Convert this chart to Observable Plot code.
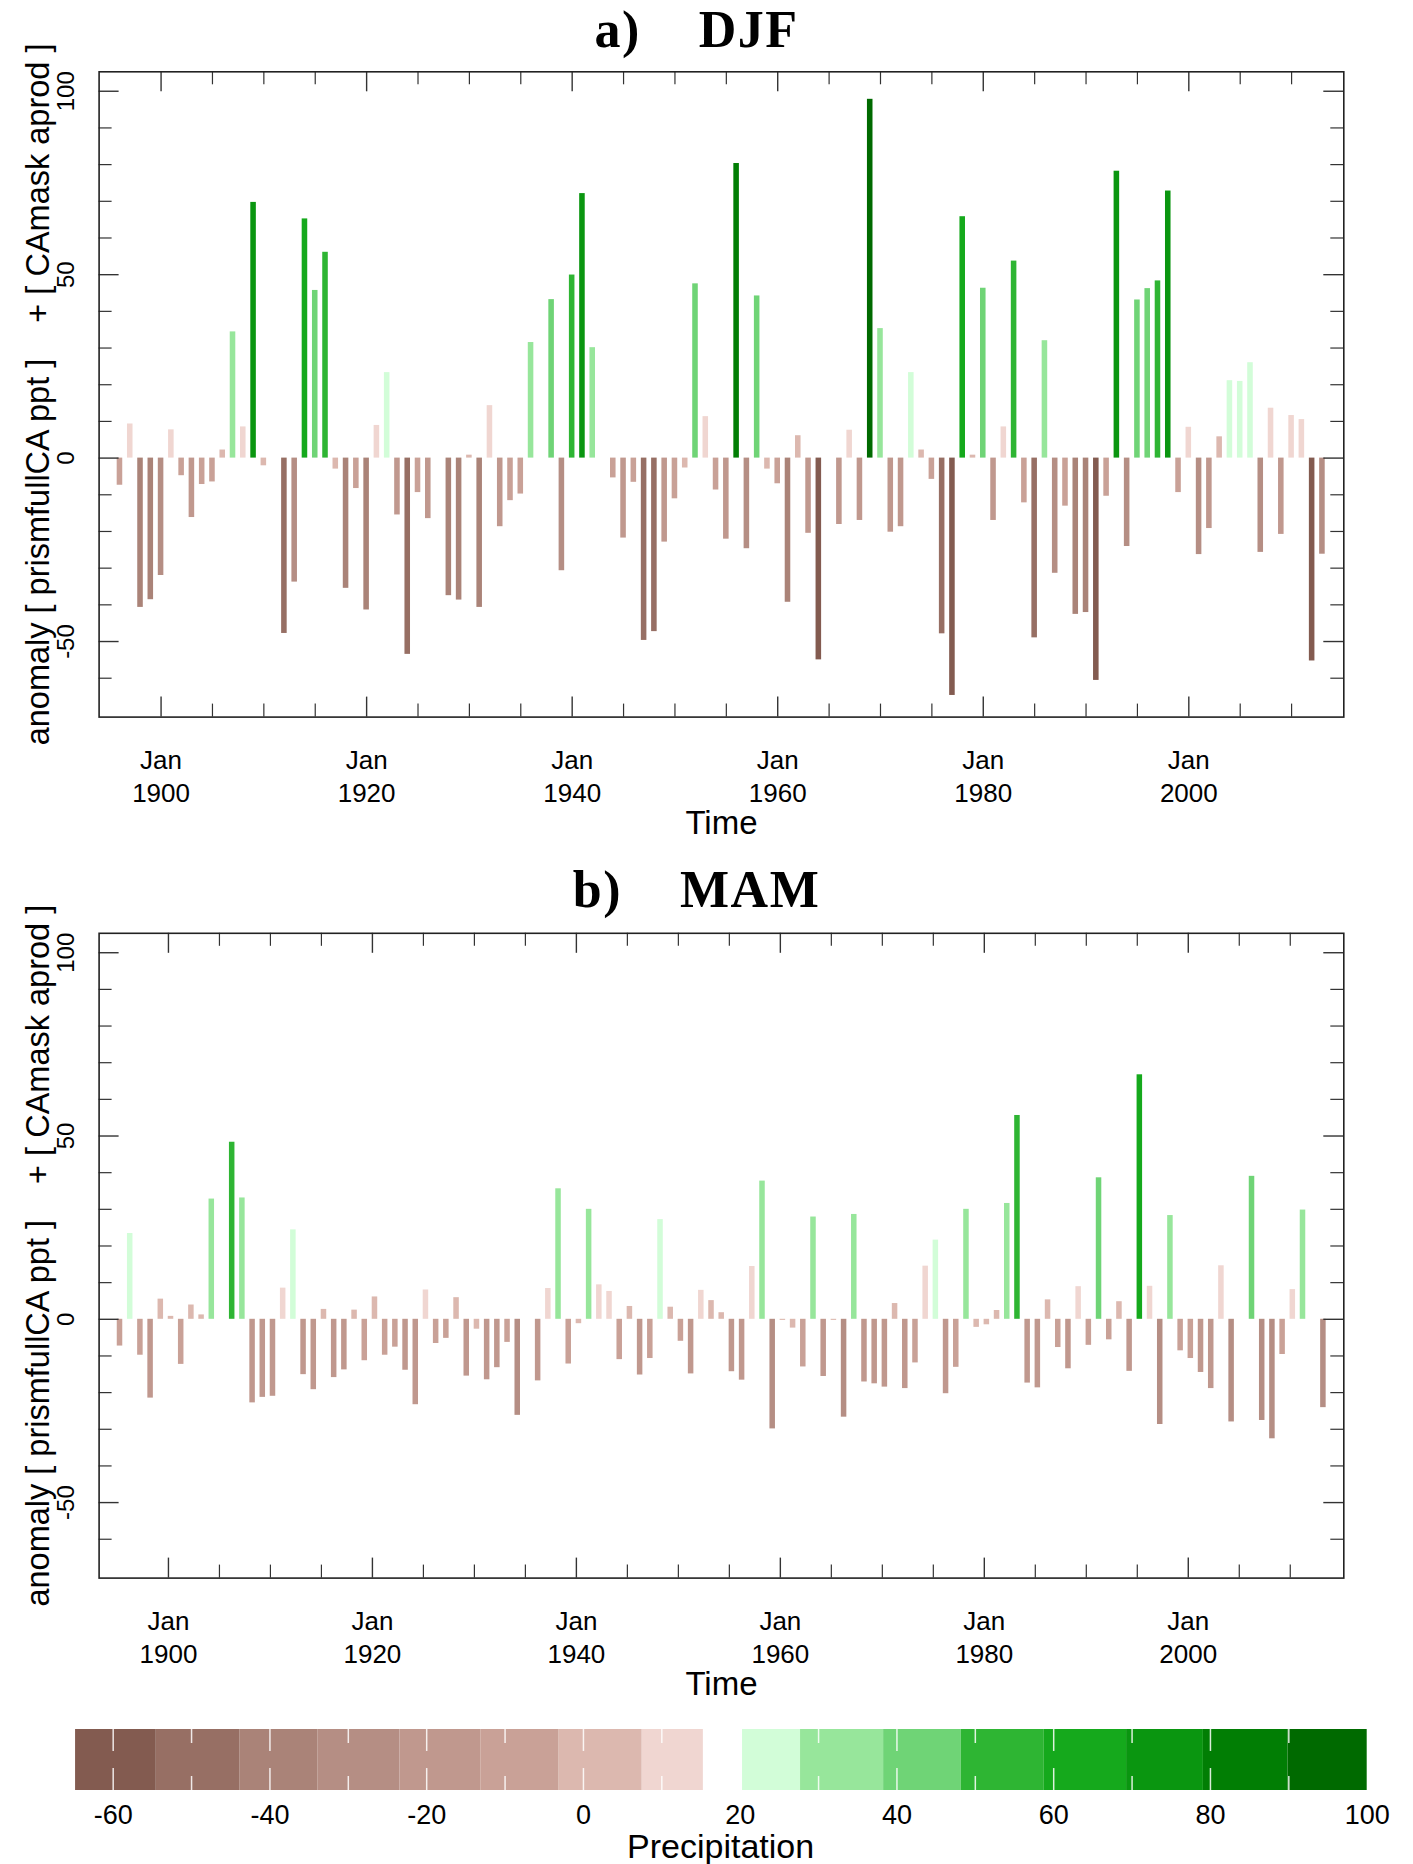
<!DOCTYPE html>
<html>
<head>
<meta charset="utf-8">
<script src="https://cdn.jsdelivr.net/npm/d3@7"></script>
<script src="https://cdn.jsdelivr.net/npm/@observablehq/plot@0.6"></script>
<style>
  body { margin: 0; background: #ffffff; }
  #page { position: relative; width: 1413px; height: 1864px; overflow: hidden; font-family: "Liberation Sans", Arial, sans-serif; }
  .title { position: absolute; left: -10px; width: 1413px; text-align: center; font-family: "Liberation Serif", "Times New Roman", serif; font-weight: bold; font-size: 52px; letter-spacing: 1.5px; line-height: 1.1; white-space: pre; color: #000; z-index: 2; }
  .panel { position: absolute; left: 0; }
  .panel svg { display: block; }
</style>
</head>
<body>
<div id="page">
  <div class="title" id="titleA" style="top:1px">a)    DJF</div>
  <div class="title" id="titleB" style="top:861px">b)    MAM</div>
  <div class="panel" id="panelA" style="top:0px"></div>
  <div class="panel" id="panelB" style="top:860px"></div>
  <div class="panel" id="legend" style="top:1720px"></div>
</div>
<script>
// ---------------- data ----------------
const djfFirstYear = 1896;   // DJF seasons, plotted at Jan of each year
const djfValues = [
  -7.4, 9.3, -40.7, -38.6, -32.0, 7.7, -4.8, -16.2, -7.2, -6.5,
  2.2, 34.4, 8.5, 69.7, -2.1, 0, -47.8, -33.8, 65.2, 45.7,
  56.1, -3.0, -35.5, -8.3, -41.4, 8.9, 23.3, -15.5, -53.5, -9.4,
  -16.5, 0, -37.5, -38.7, 0.8, -40.7, 14.3, -18.7, -11.6, -9.8,
  31.5, 0, 43.2, -30.7, 49.9, 72.1, 30.1, 0, -5.4, -21.8,
  -6.6, -49.7, -47.3, -22.9, -11.1, -2.7, 47.5, 11.3, -8.7, -22.1,
  80.3, -24.7, 44.2, -3.0, -7.0, -39.3, 6.1, -20.5, -55.0, 0,
  -18.1, 7.6, -17.0, 97.8, 35.3, -20.2, -18.7, 23.3, 2.2, -5.8,
  -47.9, -64.7, 65.8, 0.8, 46.3, -17.0, 8.5, 53.7, -12.2, -49.0,
  32.0, -31.4, -13.1, -42.6, -42.1, -60.6, -10.4, 78.2, -24.1, 43.1,
  46.2, 48.3, 72.8, -9.4, 8.4, -26.3, -19.2, 5.8, 21.1, 20.9,
  26.0, -25.7, 13.6, -20.8, 11.6, 10.5, -55.3, -26.2
];
const mamFirstYear = 1895;   // MAM seasons, plotted at early April of each year
const mamValues = [
  -7.3, 23.4, -9.8, -21.5, 5.5, 0.8, -12.3, 3.9, 1.2, 32.8,
  0, 48.3, 33.1, -22.8, -21.3, -21.0, 8.5, 24.4, -15.1, -19.2,
  2.7, -15.9, -13.8, 2.5, -11.3, 6.1, -9.8, -7.6, -13.9, -23.3,
  8.0, -6.6, -5.2, 5.9, -15.5, -2.7, -16.5, -13.2, -6.3, -26.2,
  0, -16.8, 8.4, 35.6, -12.2, -1.2, 30.0, 9.4, 7.6, -11.0,
  3.5, -15.2, -10.7, 27.2, 3.3, -6.0, -14.9, 7.9, 5.1, 1.8,
  -14.3, -16.6, 14.4, 37.7, -29.9, -0.3, -2.4, -13.0, 27.9, -15.6,
  -0.3, -26.7, 28.6, -17.1, -17.6, -18.5, 4.3, -18.9, -11.9, 14.5,
  21.6, -20.3, -13.1, 30.0, -2.2, -1.5, 2.4, 31.6, 55.6, -17.4,
  -18.7, 5.3, -7.7, -13.5, 8.9, -7.1, 38.6, -5.6, 4.8, -14.2,
  66.7, 9.0, -28.7, 28.3, -8.6, -10.7, -14.5, -18.9, 14.6, -28.0,
  0, 39.0, -27.6, -32.6, -9.6, 8.1, 29.8, 0, -24.1
];

const xMajorTicks = [1900, 1920, 1940, 1960, 1980, 2000];
const xMinorTicks = [1905, 1910, 1915, 1925, 1930, 1935, 1945, 1950, 1955, 1965, 1970, 1975, 1985, 1990, 1995, 2005, 2010];
const yMajorTicks = [-50, 0, 50, 100];
const yMinorTicks = [-60, -40, -30, -20, -10, 10, 20, 30, 40, 60, 70, 80, 90];

// colour classes (upper bounds between classes) and their colours
const colorBreaks = [-54.5, -43.8, -33.9, -23.4, -13.1, -3.1, 7.5, 17.8, 27.7, 38.3, 48.2, 58.8, 69.3, 79.1, 89.9];
const colorPalette = [
  "#835b50", "#976f64", "#aa8378", "#b58e84", "#c0988e", "#c9a197", "#dcb8af", "#f0d6d1",
  "#d2fdd8", "#97e69b", "#6fd476", "#2eb533", "#15a91c", "#0a9610", "#017e04", "#006a00"
];
// colour-bar segment edges (brown part, then green part)
const brownEdges = [-64.8, -54.5, -43.8, -33.9, -23.4, -13.1, -3.1, 7.5, 15.3];
const greenEdges = [20.3, 27.7, 38.3, 48.2, 58.8, 69.3, 79.1, 89.9, 100];
const legendLabels = [-60, -40, -20, 0, 20, 40, 60, 80, 100];
const legendTicksLong = [-60, -40, -20, 0, 40, 60, 80];
const legendTicksShort = [-50, -30, -10, 10, 30, 50, 70, 90];

const yLabel = "anomaly [ prismfullCA ppt ]\u00a0\u00a0\u00a0\u00a0+ [ CAmask aprod ]";

// ---------------- drawing ----------------
const W = 1413;
const tickColor = "#333";

function panel({firstYear, values, offset, xDomain, mT, mB, H}) {
  const mL = 98.6, mR = 69.7;
  const innerW = W - mL - mR;
  const innerH = H - mT - mB;
  const data = values.map((v, i) => ({t: firstYear + i + offset, v}));
  const half = 0.27;
  return Plot.plot({
    width: W, height: H,
    marginTop: mT, marginBottom: mB, marginLeft: mL, marginRight: mR,
    style: {fontFamily: "'Liberation Sans', Arial, sans-serif", background: "transparent", color: "#000", overflow: "visible"},
    x: {domain: xDomain, axis: null},
    y: {domain: [-70.6, 105.3], axis: null},
    color: {type: "threshold", domain: colorBreaks, range: colorPalette},
    marks: [
      Plot.rect(data, {x1: d => d.t - half, x2: d => d.t + half, y1: d => 0, y2: d => d.v, fill: d => d.v}),
      // inward ticks on all four sides
      Plot.tickY(yMajorTicks, {y: d => d, insetRight: innerW - 20, stroke: tickColor, strokeWidth: 1.4}),
      Plot.tickY(yMajorTicks, {y: d => d, insetLeft: innerW - 20, stroke: tickColor, strokeWidth: 1.4}),
      Plot.tickY(yMinorTicks, {y: d => d, insetRight: innerW - 13, stroke: tickColor, strokeWidth: 1.2}),
      Plot.tickY(yMinorTicks, {y: d => d, insetLeft: innerW - 13, stroke: tickColor, strokeWidth: 1.2}),
      Plot.tickX(xMajorTicks, {x: d => d, insetBottom: innerH - 20, stroke: tickColor, strokeWidth: 1.4}),
      Plot.tickX(xMajorTicks, {x: d => d, insetTop: innerH - 20, stroke: tickColor, strokeWidth: 1.4}),
      Plot.tickX(xMinorTicks, {x: d => d, insetBottom: innerH - 13, stroke: tickColor, strokeWidth: 1.2}),
      Plot.tickX(xMinorTicks, {x: d => d, insetTop: innerH - 13, stroke: tickColor, strokeWidth: 1.2}),
      Plot.frame({stroke: "#222", strokeWidth: 1.6}),
      // y tick labels (rotated, R style)
      Plot.text(yMajorTicks, {y: d => d, text: d => String(d), frameAnchor: "left", textAnchor: "middle", dx: -33, rotate: -90, fontSize: 24}),
      // x tick labels "Jan" / year
      Plot.text(xMajorTicks, {x: d => d, text: d => `Jan\n${d}`, frameAnchor: "bottom", lineAnchor: "top", dy: 28, fontSize: 26, lineHeight: 1.28}),
      // axis titles
      Plot.text(["Time"], {text: d => d, frameAnchor: "bottom", textAnchor: "middle", dy: 117, fontSize: 33}),
      Plot.text([yLabel], {text: d => d, frameAnchor: "left", textAnchor: "middle", dx: -60.6, rotate: -90, fontSize: 32.5})
    ]
  });
}

document.getElementById("panelA").append(panel({
  firstYear: djfFirstYear, values: djfValues, offset: 0,
  xDomain: [1893.97, 2015.08], mT: 71.3, mB: 860 - 716.6, H: 860
}));
document.getElementById("panelB").append(panel({
  firstYear: mamFirstYear, values: mamValues, offset: 0.25,
  xDomain: [1893.2, 2015.25], mT: 72.8, mB: 860 - 717.6, H: 860
}));

// ---------------- colour bar ----------------
const legendBins = [];
for (let i = 0; i < brownEdges.length - 1; i++) legendBins.push({lo: brownEdges[i], hi: brownEdges[i + 1], c: colorPalette[i]});
for (let i = 0; i < greenEdges.length - 1; i++) legendBins.push({lo: greenEdges[i], hi: greenEdges[i + 1], c: colorPalette[8 + i]});

document.getElementById("legend").append(Plot.plot({
  width: W, height: 144,
  marginTop: 9, marginBottom: 74, marginLeft: 73.5, marginRight: 46.3,
  style: {fontFamily: "'Liberation Sans', Arial, sans-serif", background: "transparent", color: "#000", overflow: "visible"},
  x: {domain: [-65, 100], axis: null},
  y: {domain: [0, 1], axis: null},
  color: {type: "identity"},
  marks: [
    Plot.rect(legendBins, {x1: "lo", x2: "hi", y1: d => 0, y2: d => 1, fill: "c"}),
    Plot.ruleX(legendTicksLong, {x: d => d, y1: d => 1, y2: d => 0.64, stroke: "#fff", strokeWidth: 1.5, strokeOpacity: 0.85}),
    Plot.ruleX(legendTicksLong, {x: d => d, y1: d => 0, y2: d => 0.36, stroke: "#fff", strokeWidth: 1.5, strokeOpacity: 0.85}),
    Plot.ruleX(legendTicksShort, {x: d => d, y1: d => 1, y2: d => 0.77, stroke: "#fff", strokeWidth: 1.5, strokeOpacity: 0.85}),
    Plot.ruleX(legendTicksShort, {x: d => d, y1: d => 0, y2: d => 0.23, stroke: "#fff", strokeWidth: 1.5, strokeOpacity: 0.85}),
    Plot.text(legendLabels, {x: d => d, text: d => String(d), frameAnchor: "bottom", dy: 33, fontSize: 27}),
    Plot.text(["Precipitation"], {text: d => d, frameAnchor: "bottom", textAnchor: "middle", dy: 67, fontSize: 34})
  ]
}));
</script>
</body>
</html>
